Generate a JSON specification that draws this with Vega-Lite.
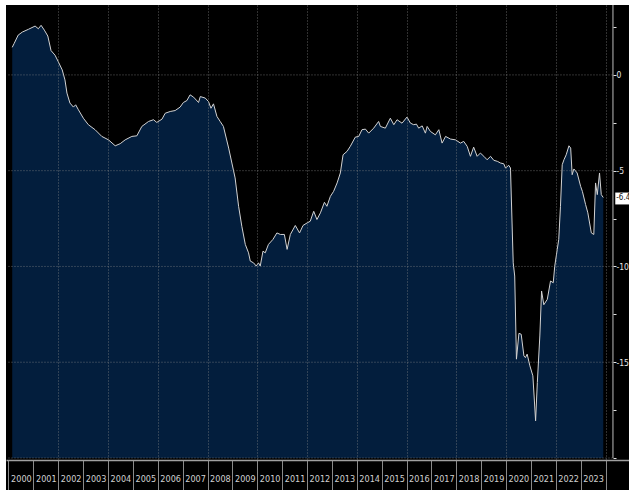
{
  "$schema": "https://vega.github.io/schema/vega-lite/v6.json",
  "width": 623,
  "height": 485,
  "padding": {"left": 6, "top": 5, "right": 0, "bottom": 0},
  "autosize": {"type": "none"},
  "background": "#ffffff",
  "config": {"view": {"stroke": null, "fill": "#000000"}, "font": "Liberation Sans Narrow, DejaVu Sans Condensed, sans-serif"},
  "datasets": {
    "series": [
      {"t": 2000.15, "v": 1.44}, {"t": 2000.23, "v": 1.65}, {"t": 2000.39, "v": 2.08}, {"t": 2000.56, "v": 2.24},
      {"t": 2000.80, "v": 2.38}, {"t": 2001.07, "v": 2.55}, {"t": 2001.20, "v": 2.41}, {"t": 2001.31, "v": 2.59},
      {"t": 2001.44, "v": 2.34}, {"t": 2001.58, "v": 2.03}, {"t": 2001.71, "v": 1.27}, {"t": 2001.87, "v": 1.03},
      {"t": 2002.00, "v": 0.69}, {"t": 2002.16, "v": 0.26}, {"t": 2002.27, "v": -0.26}, {"t": 2002.35, "v": -0.95},
      {"t": 2002.47, "v": -1.47}, {"t": 2002.61, "v": -1.68}, {"t": 2002.70, "v": -1.56}, {"t": 2002.81, "v": -1.82},
      {"t": 2003.01, "v": -2.26}, {"t": 2003.21, "v": -2.6}, {"t": 2003.48, "v": -2.86}, {"t": 2003.75, "v": -3.21},
      {"t": 2004.02, "v": -3.39}, {"t": 2004.29, "v": -3.7}, {"t": 2004.49, "v": -3.59}, {"t": 2004.69, "v": -3.39},
      {"t": 2004.96, "v": -3.21}, {"t": 2005.16, "v": -3.18}, {"t": 2005.36, "v": -2.69}, {"t": 2005.63, "v": -2.43},
      {"t": 2005.83, "v": -2.34}, {"t": 2005.96, "v": -2.48}, {"t": 2006.17, "v": -2.31}, {"t": 2006.30, "v": -2.0},
      {"t": 2006.50, "v": -1.91}, {"t": 2006.70, "v": -1.86}, {"t": 2006.90, "v": -1.68}, {"t": 2007.03, "v": -1.44},
      {"t": 2007.17, "v": -1.34}, {"t": 2007.30, "v": -1.04}, {"t": 2007.44, "v": -1.16}, {"t": 2007.64, "v": -1.44},
      {"t": 2007.71, "v": -1.13}, {"t": 2007.91, "v": -1.21}, {"t": 2008.04, "v": -1.39}, {"t": 2008.14, "v": -1.74},
      {"t": 2008.24, "v": -1.51}, {"t": 2008.38, "v": -2.17}, {"t": 2008.51, "v": -2.43}, {"t": 2008.64, "v": -2.69},
      {"t": 2008.85, "v": -3.82}, {"t": 2008.98, "v": -4.6}, {"t": 2009.11, "v": -5.38}, {"t": 2009.25, "v": -6.86},
      {"t": 2009.38, "v": -7.9}, {"t": 2009.52, "v": -8.85}, {"t": 2009.65, "v": -9.29}, {"t": 2009.72, "v": -9.72},
      {"t": 2009.85, "v": -9.81}, {"t": 2009.96, "v": -9.98}, {"t": 2010.05, "v": -9.81}, {"t": 2010.12, "v": -9.98},
      {"t": 2010.23, "v": -9.2}, {"t": 2010.32, "v": -9.29}, {"t": 2010.45, "v": -8.85}, {"t": 2010.63, "v": -8.59},
      {"t": 2010.79, "v": -8.25}, {"t": 2010.93, "v": -8.33}, {"t": 2011.09, "v": -8.33}, {"t": 2011.20, "v": -9.11},
      {"t": 2011.33, "v": -8.33}, {"t": 2011.53, "v": -7.86}, {"t": 2011.70, "v": -8.25}, {"t": 2011.84, "v": -7.86},
      {"t": 2012.00, "v": -7.73}, {"t": 2012.13, "v": -7.64}, {"t": 2012.27, "v": -7.12}, {"t": 2012.40, "v": -7.55},
      {"t": 2012.54, "v": -7.2}, {"t": 2012.70, "v": -6.65}, {"t": 2012.80, "v": -6.86}, {"t": 2012.94, "v": -6.34},
      {"t": 2013.07, "v": -6.08}, {"t": 2013.21, "v": -5.64}, {"t": 2013.34, "v": -5.12}, {"t": 2013.45, "v": -4.17},
      {"t": 2013.61, "v": -3.99}, {"t": 2013.74, "v": -3.73}, {"t": 2013.94, "v": -3.25}, {"t": 2014.08, "v": -3.21},
      {"t": 2014.21, "v": -2.86}, {"t": 2014.35, "v": -2.83}, {"t": 2014.48, "v": -3.04}, {"t": 2014.68, "v": -2.78},
      {"t": 2014.88, "v": -2.43}, {"t": 2014.95, "v": -2.69}, {"t": 2015.15, "v": -2.78}, {"t": 2015.35, "v": -2.26},
      {"t": 2015.49, "v": -2.6}, {"t": 2015.62, "v": -2.34}, {"t": 2015.82, "v": -2.52}, {"t": 2016.02, "v": -2.2},
      {"t": 2016.16, "v": -2.52}, {"t": 2016.29, "v": -2.6}, {"t": 2016.40, "v": -2.57}, {"t": 2016.49, "v": -2.78},
      {"t": 2016.63, "v": -2.66}, {"t": 2016.76, "v": -3.04}, {"t": 2016.83, "v": -2.69}, {"t": 2016.96, "v": -2.95},
      {"t": 2017.16, "v": -3.13}, {"t": 2017.30, "v": -2.86}, {"t": 2017.43, "v": -3.56}, {"t": 2017.57, "v": -3.21},
      {"t": 2017.77, "v": -3.35}, {"t": 2017.97, "v": -3.39}, {"t": 2018.17, "v": -3.56}, {"t": 2018.30, "v": -3.47},
      {"t": 2018.44, "v": -3.73}, {"t": 2018.57, "v": -4.25}, {"t": 2018.70, "v": -3.77}, {"t": 2018.84, "v": -4.25},
      {"t": 2018.97, "v": -4.08}, {"t": 2019.11, "v": -4.25}, {"t": 2019.24, "v": -4.43}, {"t": 2019.38, "v": -4.25},
      {"t": 2019.51, "v": -4.46}, {"t": 2019.65, "v": -4.51}, {"t": 2019.78, "v": -4.6}, {"t": 2019.91, "v": -4.64},
      {"t": 2019.98, "v": -4.86}, {"t": 2020.11, "v": -4.72}, {"t": 2020.18, "v": -4.86}, {"t": 2020.29, "v": -9.81},
      {"t": 2020.35, "v": -10.5}, {"t": 2020.42, "v": -14.84}, {"t": 2020.52, "v": -13.49}, {"t": 2020.61, "v": -13.54},
      {"t": 2020.72, "v": -14.67}, {"t": 2020.78, "v": -14.76}, {"t": 2020.85, "v": -14.58}, {"t": 2020.96, "v": -15.19},
      {"t": 2021.08, "v": -15.71}, {"t": 2021.19, "v": -18.06}, {"t": 2021.26, "v": -16.06}, {"t": 2021.36, "v": -13.63},
      {"t": 2021.43, "v": -11.28}, {"t": 2021.52, "v": -12.0}, {"t": 2021.66, "v": -11.72}, {"t": 2021.79, "v": -10.76},
      {"t": 2021.90, "v": -10.85}, {"t": 2021.96, "v": -9.98}, {"t": 2022.06, "v": -9.11}, {"t": 2022.12, "v": -8.59},
      {"t": 2022.19, "v": -6.86}, {"t": 2022.26, "v": -4.69}, {"t": 2022.33, "v": -4.43}, {"t": 2022.42, "v": -4.17},
      {"t": 2022.53, "v": -3.7}, {"t": 2022.60, "v": -3.82}, {"t": 2022.66, "v": -5.21}, {"t": 2022.73, "v": -4.91},
      {"t": 2022.86, "v": -5.12}, {"t": 2023.00, "v": -5.82}, {"t": 2023.07, "v": -6.08}, {"t": 2023.20, "v": -6.77},
      {"t": 2023.29, "v": -7.2}, {"t": 2023.43, "v": -8.25}, {"t": 2023.53, "v": -8.33}, {"t": 2023.60, "v": -5.64},
      {"t": 2023.67, "v": -6.25}, {"t": 2023.76, "v": -5.12}, {"t": 2023.83, "v": -6.25}, {"t": 2023.91, "v": -6.4}
    ],
    "hgrid": [{"v": 0}, {"v": -5}, {"v": -10}, {"v": -15}, {"v": -20}],
    "last": [{"t": 2023.91, "v": -6.4, "label": "-6.4"}]
  },
  "layer": [
    {
      "data": {"name": "series"},
      "mark": {"type": "area", "color": "#031e3d", "opacity": 1, "line": {"color": "#d2d2d2", "strokeWidth": 1}},
      "encoding": {
        "x": {
          "field": "t", "type": "quantitative",
          "scale": {"domain": [1999.8995, 2024.9447], "nice": false, "zero": false},
          "axis": {
            "title": null,
            "values": [2000, 2001, 2002, 2003, 2004, 2005, 2006, 2007, 2008, 2009, 2010, 2011, 2012, 2013, 2014, 2015, 2016, 2017, 2018, 2019, 2020, 2021, 2022, 2023, 2024],
            "tickCount": 40,
            "format": "d",
            "labelExpr": "datum.value >= 2024 ? '' : datum.label",
            "labelOffset": 12.4,
            "labelAngle": 0,
            "labelPadding": -16,
            "labelColor": "#d0d0d0",
            "labelFontSize": 9,
            "labelOverlap": false,
            "labelFlush": false,
            "labelBound": false,
            "tickSize": 30,
            "tickColor": "#8a8a8a",
            "tickWidth": 1,
            "domainColor": "#a0a0a0",
            "domainWidth": 1.5,
            "offset": -30,
            "grid": true,
            "gridColor": {"condition": {"test": "datum.value % 2 === 0 && datum.value > 2000", "value": "#8a8a8a"}, "value": "transparent"},
            "gridDash": [1, 2],
            "gridOpacity": 0.7,
            "zindex": 1
          }
        },
        "y": {
          "field": "v", "type": "quantitative",
          "scale": {"domain": [-21.671, 3.65], "nice": false, "zero": false},
          "axis": {
            "title": null,
            "orient": "right",
            "offset": -16,
            "values": [-20, -17.5, -15, -12.5, -10, -7.5, -5, -2.5, 0, 2.5],
            "tickCount": 20,
            "labelExpr": "(datum.value % 5 === 0 && datum.value > -20) ? ('' + datum.value) : ''",
            "labelColor": "#e6e6e6",
            "labelFontSize": 8.5,
            "labelPadding": 0,
            "labelBound": false,
            "labelFlush": false,
            "labelOverlap": false,
            "tickSize": 3,
            "tickColor": "#e0e0e0",
            "domain": false,
            "grid": false,
            "zindex": 1
          }
        },
        "y2": {"datum": -20}
      }
    },
    {
      "data": {"name": "hgrid"},
      "mark": {"type": "rule", "color": "#8a8a8a", "opacity": 0.7, "strokeDash": [1, 2], "strokeWidth": 1},
      "encoding": {
        "x": {"datum": 2000, "type": "quantitative"},
        "x2": {"datum": 2024.3},
        "y": {"field": "v", "type": "quantitative"}
      }
    },
    {
      "data": {"name": "last"},
      "mark": {"type": "rule", "color": "#bdbdbd", "strokeWidth": 1},
      "encoding": {
        "x": {"datum": 2024.3, "type": "quantitative"},
        "y": {"datum": 3.65, "type": "quantitative"},
        "y2": {"datum": -20}
      }
    },
    {
      "data": {"name": "last"},
      "mark": {"type": "point", "shape": "M-1,-0.85L1,-0.85L1,0.85L-1,0.85Z", "size": 196, "filled": true, "color": "#ffffff", "opacity": 1, "xOffset": 19, "yOffset": 1},
      "encoding": {
        "x": {"field": "t", "type": "quantitative"},
        "y": {"field": "v", "type": "quantitative"}
      }
    },
    {
      "data": {"name": "last"},
      "mark": {"type": "text", "align": "left", "baseline": "middle", "color": "#111111", "fontSize": 8, "dx": 13, "dy": 1},
      "encoding": {
        "x": {"field": "t", "type": "quantitative"},
        "y": {"field": "v", "type": "quantitative"},
        "text": {"field": "label"}
      }
    }
  ]
}
